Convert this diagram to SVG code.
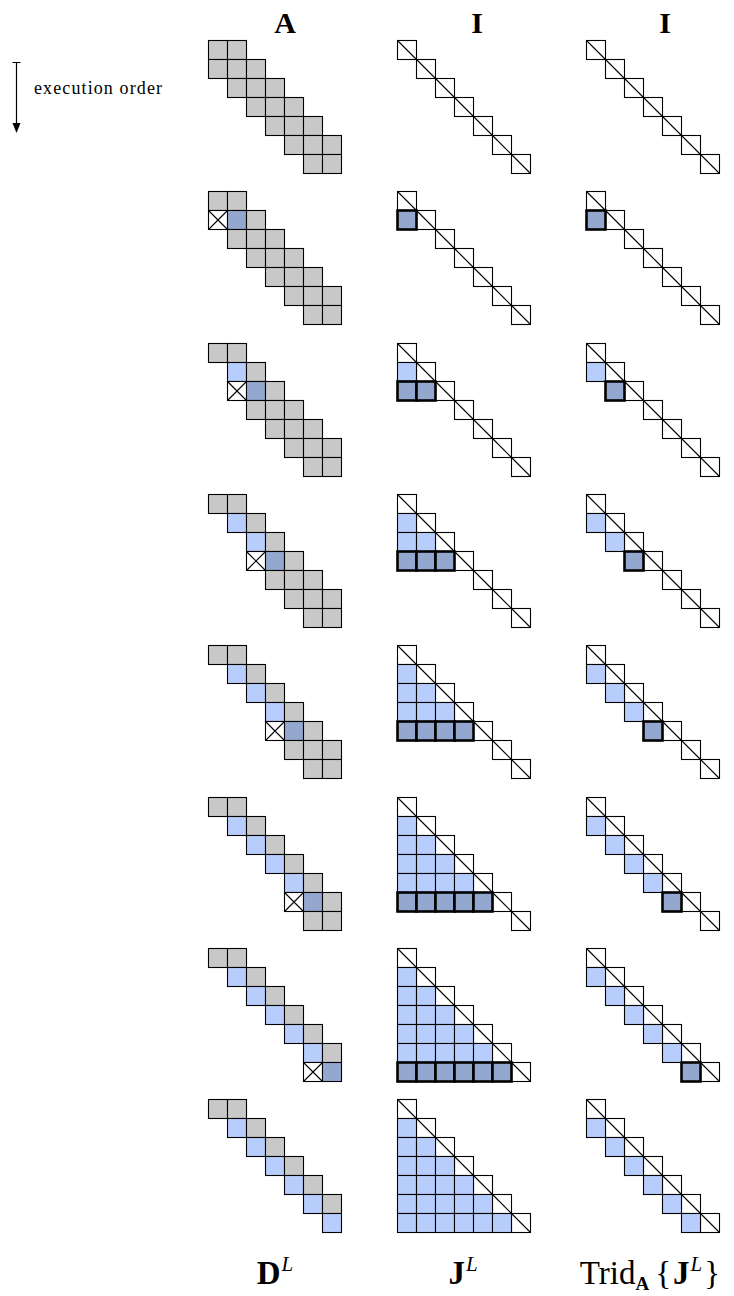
<svg xmlns="http://www.w3.org/2000/svg" xmlns:xlink="http://www.w3.org/1999/xlink" width="734" height="1296" viewBox="0 0 734 1296">
<style>
use{stroke:#000;stroke-width:1.1}
.g{fill:#c8c8c8}
.l{fill:#b7cdfb}
.d{fill:#94a8cf}
.t{fill:#94a8cf;stroke-width:2.6}
.ttl{font-family:"Liberation Serif",serif;font-weight:bold;font-size:30px;text-anchor:middle;fill:#000}
.lbl{font-family:"Liberation Serif",serif;font-size:33px;text-anchor:middle;fill:#000}
.note{font-family:"Liberation Serif",serif;font-size:18px;fill:#000}
</style>
<defs>
<rect id="c" width="19" height="19"/>
<g id="X"><rect width="19" height="19" fill="#fff" stroke="#000" stroke-width="1.1"/><path d="M0,0L19,19M19,0L0,19" stroke="#000" stroke-width="1.1" fill="none"/></g>
<g id="Dg"><rect width="19" height="19" fill="#fff" stroke="#000" stroke-width="1.1"/><path d="M0,0L19,19" stroke="#000" stroke-width="1.1" fill="none"/></g>
<g id="I">
<use href="#Dg" x="0" y="0"/><use href="#Dg" x="19" y="19"/><use href="#Dg" x="38" y="38"/><use href="#Dg" x="57" y="57"/><use href="#Dg" x="76" y="76"/><use href="#Dg" x="95" y="95"/><use href="#Dg" x="114" y="114"/>
</g>
<g id="tri1"><use href="#c" class="l" x="0" y="19"/></g>
<g id="tri2"><use href="#tri1"/><use href="#c" class="l" x="0" y="38"/><use href="#c" class="l" x="19" y="38"/></g>
<g id="tri3"><use href="#tri2"/><use href="#c" class="l" x="0" y="57"/><use href="#c" class="l" x="19" y="57"/><use href="#c" class="l" x="38" y="57"/></g>
<g id="tri4"><use href="#tri3"/><use href="#c" class="l" x="0" y="76"/><use href="#c" class="l" x="19" y="76"/><use href="#c" class="l" x="38" y="76"/><use href="#c" class="l" x="57" y="76"/></g>
<g id="tri5"><use href="#tri4"/><use href="#c" class="l" x="0" y="95"/><use href="#c" class="l" x="19" y="95"/><use href="#c" class="l" x="38" y="95"/><use href="#c" class="l" x="57" y="95"/><use href="#c" class="l" x="76" y="95"/></g>
<g id="tri6"><use href="#tri5"/><use href="#c" class="l" x="0" y="114"/><use href="#c" class="l" x="19" y="114"/><use href="#c" class="l" x="38" y="114"/><use href="#c" class="l" x="57" y="114"/><use href="#c" class="l" x="76" y="114"/><use href="#c" class="l" x="95" y="114"/></g>
<g id="sub1"><use href="#c" class="l" x="0" y="19"/></g>
<g id="sub2"><use href="#sub1"/><use href="#c" class="l" x="19" y="38"/></g>
<g id="sub3"><use href="#sub2"/><use href="#c" class="l" x="38" y="57"/></g>
<g id="sub4"><use href="#sub3"/><use href="#c" class="l" x="57" y="76"/></g>
<g id="sub5"><use href="#sub4"/><use href="#c" class="l" x="76" y="95"/></g>
<g id="sub6"><use href="#sub5"/><use href="#c" class="l" x="95" y="114"/></g>
</defs>

<g id="titles">
<text class="ttl" x="285" y="33">A</text>
<text class="ttl" x="477" y="33">I</text>
<text class="ttl" x="665" y="33">I</text>
</g>

<g id="legend">
<path d="M12.5,62.5H20.5M16.5,62.5V123" stroke="#000" stroke-width="1.2" fill="none"/>
<path d="M12.5,123L20.5,123L16.5,133Z" fill="#000"/>
<text class="note" x="34" y="94" textLength="128" lengthAdjust="spacing">execution order</text>
</g>

<!-- Column A -->
<g id="A0" transform="translate(208.5,40.5)">
<use href="#c" class="g" x="0" y="0"/><use href="#c" class="g" x="19" y="0"/>
<use href="#c" class="g" x="0" y="19"/><use href="#c" class="g" x="19" y="19"/><use href="#c" class="g" x="38" y="19"/>
<use href="#c" class="g" x="19" y="38"/><use href="#c" class="g" x="38" y="38"/><use href="#c" class="g" x="57" y="38"/>
<use href="#c" class="g" x="38" y="57"/><use href="#c" class="g" x="57" y="57"/><use href="#c" class="g" x="76" y="57"/>
<use href="#c" class="g" x="57" y="76"/><use href="#c" class="g" x="76" y="76"/><use href="#c" class="g" x="95" y="76"/>
<use href="#c" class="g" x="76" y="95"/><use href="#c" class="g" x="95" y="95"/><use href="#c" class="g" x="114" y="95"/>
<use href="#c" class="g" x="95" y="114"/><use href="#c" class="g" x="114" y="114"/>
</g>
<g id="A1" transform="translate(208.5,191.5)">
<use href="#c" class="g" x="0" y="0"/><use href="#c" class="g" x="19" y="0"/>
<use href="#X" x="0" y="19"/><use href="#c" class="d" x="19" y="19"/><use href="#c" class="g" x="38" y="19"/>
<use href="#c" class="g" x="19" y="38"/><use href="#c" class="g" x="38" y="38"/><use href="#c" class="g" x="57" y="38"/>
<use href="#c" class="g" x="38" y="57"/><use href="#c" class="g" x="57" y="57"/><use href="#c" class="g" x="76" y="57"/>
<use href="#c" class="g" x="57" y="76"/><use href="#c" class="g" x="76" y="76"/><use href="#c" class="g" x="95" y="76"/>
<use href="#c" class="g" x="76" y="95"/><use href="#c" class="g" x="95" y="95"/><use href="#c" class="g" x="114" y="95"/>
<use href="#c" class="g" x="95" y="114"/><use href="#c" class="g" x="114" y="114"/>
</g>
<g id="A2" transform="translate(208.5,343.5)">
<use href="#c" class="g" x="0" y="0"/><use href="#c" class="g" x="19" y="0"/>
<use href="#c" class="l" x="19" y="19"/><use href="#c" class="g" x="38" y="19"/>
<use href="#X" x="19" y="38"/><use href="#c" class="d" x="38" y="38"/><use href="#c" class="g" x="57" y="38"/>
<use href="#c" class="g" x="38" y="57"/><use href="#c" class="g" x="57" y="57"/><use href="#c" class="g" x="76" y="57"/>
<use href="#c" class="g" x="57" y="76"/><use href="#c" class="g" x="76" y="76"/><use href="#c" class="g" x="95" y="76"/>
<use href="#c" class="g" x="76" y="95"/><use href="#c" class="g" x="95" y="95"/><use href="#c" class="g" x="114" y="95"/>
<use href="#c" class="g" x="95" y="114"/><use href="#c" class="g" x="114" y="114"/>
</g>
<g id="A3" transform="translate(208.5,494.5)">
<use href="#c" class="g" x="0" y="0"/><use href="#c" class="g" x="19" y="0"/>
<use href="#c" class="l" x="19" y="19"/><use href="#c" class="g" x="38" y="19"/>
<use href="#c" class="l" x="38" y="38"/><use href="#c" class="g" x="57" y="38"/>
<use href="#X" x="38" y="57"/><use href="#c" class="d" x="57" y="57"/><use href="#c" class="g" x="76" y="57"/>
<use href="#c" class="g" x="57" y="76"/><use href="#c" class="g" x="76" y="76"/><use href="#c" class="g" x="95" y="76"/>
<use href="#c" class="g" x="76" y="95"/><use href="#c" class="g" x="95" y="95"/><use href="#c" class="g" x="114" y="95"/>
<use href="#c" class="g" x="95" y="114"/><use href="#c" class="g" x="114" y="114"/>
</g>
<g id="A4" transform="translate(208.5,645.5)">
<use href="#c" class="g" x="0" y="0"/><use href="#c" class="g" x="19" y="0"/>
<use href="#c" class="l" x="19" y="19"/><use href="#c" class="g" x="38" y="19"/>
<use href="#c" class="l" x="38" y="38"/><use href="#c" class="g" x="57" y="38"/>
<use href="#c" class="l" x="57" y="57"/><use href="#c" class="g" x="76" y="57"/>
<use href="#X" x="57" y="76"/><use href="#c" class="d" x="76" y="76"/><use href="#c" class="g" x="95" y="76"/>
<use href="#c" class="g" x="76" y="95"/><use href="#c" class="g" x="95" y="95"/><use href="#c" class="g" x="114" y="95"/>
<use href="#c" class="g" x="95" y="114"/><use href="#c" class="g" x="114" y="114"/>
</g>
<g id="A5" transform="translate(208.5,797.5)">
<use href="#c" class="g" x="0" y="0"/><use href="#c" class="g" x="19" y="0"/>
<use href="#c" class="l" x="19" y="19"/><use href="#c" class="g" x="38" y="19"/>
<use href="#c" class="l" x="38" y="38"/><use href="#c" class="g" x="57" y="38"/>
<use href="#c" class="l" x="57" y="57"/><use href="#c" class="g" x="76" y="57"/>
<use href="#c" class="l" x="76" y="76"/><use href="#c" class="g" x="95" y="76"/>
<use href="#X" x="76" y="95"/><use href="#c" class="d" x="95" y="95"/><use href="#c" class="g" x="114" y="95"/>
<use href="#c" class="g" x="95" y="114"/><use href="#c" class="g" x="114" y="114"/>
</g>
<g id="A6" transform="translate(208.5,948.5)">
<use href="#c" class="g" x="0" y="0"/><use href="#c" class="g" x="19" y="0"/>
<use href="#c" class="l" x="19" y="19"/><use href="#c" class="g" x="38" y="19"/>
<use href="#c" class="l" x="38" y="38"/><use href="#c" class="g" x="57" y="38"/>
<use href="#c" class="l" x="57" y="57"/><use href="#c" class="g" x="76" y="57"/>
<use href="#c" class="l" x="76" y="76"/><use href="#c" class="g" x="95" y="76"/>
<use href="#c" class="l" x="95" y="95"/><use href="#c" class="g" x="114" y="95"/>
<use href="#X" x="95" y="114"/><use href="#c" class="d" x="114" y="114"/>
</g>
<g id="A7" transform="translate(208.5,1099.5)">
<use href="#c" class="g" x="0" y="0"/><use href="#c" class="g" x="19" y="0"/>
<use href="#c" class="l" x="19" y="19"/><use href="#c" class="g" x="38" y="19"/>
<use href="#c" class="l" x="38" y="38"/><use href="#c" class="g" x="57" y="38"/>
<use href="#c" class="l" x="57" y="57"/><use href="#c" class="g" x="76" y="57"/>
<use href="#c" class="l" x="76" y="76"/><use href="#c" class="g" x="95" y="76"/>
<use href="#c" class="l" x="95" y="95"/><use href="#c" class="g" x="114" y="95"/>
<use href="#c" class="l" x="114" y="114"/>
</g>

<!-- Column J -->
<g id="J0" transform="translate(397.5,40.5)"><use href="#I"/></g>
<g id="J1" transform="translate(397.5,191.5)"><use href="#I"/>
<use href="#c" class="t" x="0" y="19"/></g>
<g id="J2" transform="translate(397.5,343.5)"><use href="#I"/><use href="#tri1"/>
<use href="#c" class="t" x="0" y="38"/><use href="#c" class="t" x="19" y="38"/></g>
<g id="J3" transform="translate(397.5,494.5)"><use href="#I"/><use href="#tri2"/>
<use href="#c" class="t" x="0" y="57"/><use href="#c" class="t" x="19" y="57"/><use href="#c" class="t" x="38" y="57"/></g>
<g id="J4" transform="translate(397.5,645.5)"><use href="#I"/><use href="#tri3"/>
<use href="#c" class="t" x="0" y="76"/><use href="#c" class="t" x="19" y="76"/><use href="#c" class="t" x="38" y="76"/><use href="#c" class="t" x="57" y="76"/></g>
<g id="J5" transform="translate(397.5,797.5)"><use href="#I"/><use href="#tri4"/>
<use href="#c" class="t" x="0" y="95"/><use href="#c" class="t" x="19" y="95"/><use href="#c" class="t" x="38" y="95"/><use href="#c" class="t" x="57" y="95"/><use href="#c" class="t" x="76" y="95"/></g>
<g id="J6" transform="translate(397.5,948.5)"><use href="#I"/><use href="#tri5"/>
<use href="#c" class="t" x="0" y="114"/><use href="#c" class="t" x="19" y="114"/><use href="#c" class="t" x="38" y="114"/><use href="#c" class="t" x="57" y="114"/><use href="#c" class="t" x="76" y="114"/><use href="#c" class="t" x="95" y="114"/></g>
<g id="J7" transform="translate(397.5,1099.5)"><use href="#I"/><use href="#tri6"/></g>

<!-- Column Trid -->
<g id="T0" transform="translate(586.5,40.5)"><use href="#I"/></g>
<g id="T1" transform="translate(586.5,191.5)"><use href="#I"/>
<use href="#c" class="t" x="0" y="19"/></g>
<g id="T2" transform="translate(586.5,343.5)"><use href="#I"/><use href="#sub1"/>
<use href="#c" class="t" x="19" y="38"/></g>
<g id="T3" transform="translate(586.5,494.5)"><use href="#I"/><use href="#sub2"/>
<use href="#c" class="t" x="38" y="57"/></g>
<g id="T4" transform="translate(586.5,645.5)"><use href="#I"/><use href="#sub3"/>
<use href="#c" class="t" x="57" y="76"/></g>
<g id="T5" transform="translate(586.5,797.5)"><use href="#I"/><use href="#sub4"/>
<use href="#c" class="t" x="76" y="95"/></g>
<g id="T6" transform="translate(586.5,948.5)"><use href="#I"/><use href="#sub5"/>
<use href="#c" class="t" x="95" y="114"/></g>
<g id="T7" transform="translate(586.5,1099.5)"><use href="#I"/><use href="#sub6"/></g>

<g id="labels">
<text class="lbl" x="275" y="1284"><tspan font-weight="bold">D</tspan><tspan font-style="italic" font-size="21" dy="-13" dx="1">L</tspan></text>
<text class="lbl" x="463" y="1284"><tspan font-weight="bold">J</tspan><tspan font-style="italic" font-size="21" dy="-13" dx="1">L</tspan></text>
<text class="lbl" x="650" y="1284">Trid<tspan font-weight="bold" font-size="19" dy="6">A</tspan><tspan dy="-6" dx="6">{</tspan><tspan font-weight="bold" dx="2">J</tspan><tspan font-style="italic" font-size="21" dy="-13" dx="1">L</tspan><tspan dy="13" dx="2">}</tspan></text>
</g>
</svg>
